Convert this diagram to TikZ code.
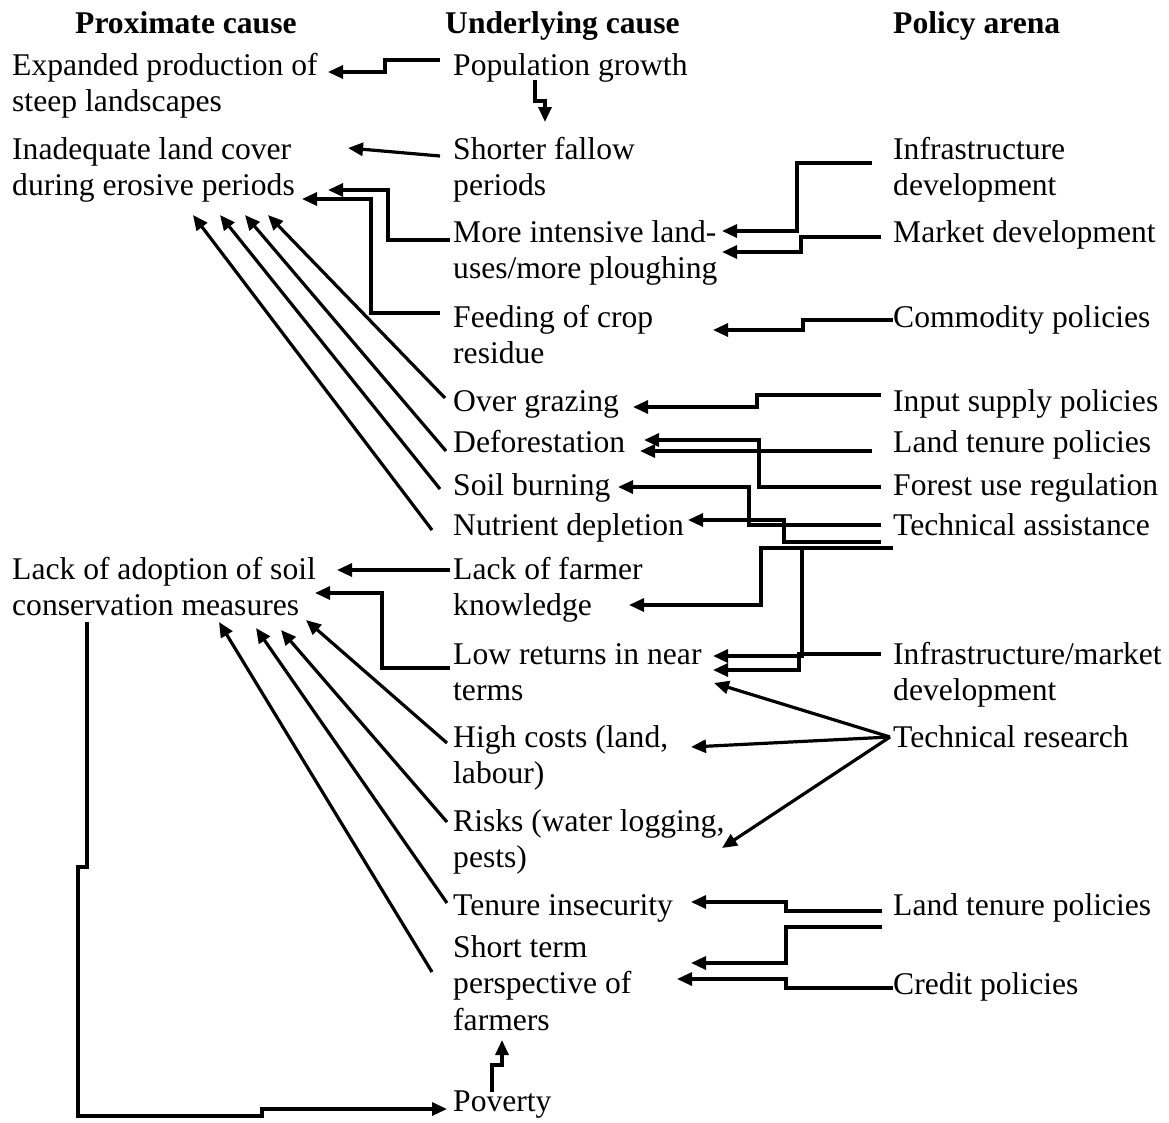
\documentclass[tikz,border=0pt]{standalone}
\usepackage{fontspec}
\setmainfont{Liberation Serif}
\usetikzlibrary{arrows.meta,calc}
\newcommand\twolines[2]{\vtop{\hbox{#1}\hbox{#2}}}
\newcommand\threelines[3]{\vtop{\hbox{#1}\hbox{#2}\hbox{#3}}}
\begin{document}
\begin{tikzpicture}[x=1pt,y=-1pt,
  lbl/.style={anchor=base west,inner sep=0pt,font=\fontsize{31.6pt}{36.5pt}\selectfont},
  hdr/.style={anchor=base west,inner sep=0pt,font=\fontsize{31.6pt}{36.5pt}\selectfont\bfseries},
  conn/.style={line width=3.2pt,-{Triangle[length=15pt,width=13pt]}}]
\useasboundingbox[fill=white] (0,0) rectangle (1169,1122);
% headers
\node[hdr] (hprox) at (75,33) {Proximate cause};
\node[hdr] (hund) at (445,33) {Underlying cause};
\node[hdr] (hpol) at (893,33) {Policy arena};
% proximate causes
\node[lbl] (exp) at (12,75) {\twolines{Expanded production of}{steep landscapes}};
\node[lbl] (inad) at (12,159) {\twolines{Inadequate land cover}{during erosive periods}};
\node[lbl] (lack) at (12,579) {\twolines{Lack of adoption of soil}{conservation measures}};
% underlying causes
\node[lbl] (pop) at (453,75) {Population growth};
\node[lbl] (short) at (453,159) {\twolines{Shorter fallow}{periods}};
\node[lbl] (more) at (453,242) {\twolines{More intensive land-}{uses/more ploughing}};
\node[lbl] (feed) at (453,327) {\twolines{Feeding of crop}{residue}};
\node[lbl] (over) at (453,411) {Over grazing};
\node[lbl] (defo) at (453,452) {Deforestation};
\node[lbl] (soil) at (453,495) {Soil burning};
\node[lbl] (nutr) at (453,535) {Nutrient depletion};
\node[lbl] (lfk) at (453,579) {\twolines{Lack of farmer}{knowledge}};
\node[lbl] (low) at (453,664) {\twolines{Low returns in near}{terms}};
\node[lbl] (high) at (453,747) {\twolines{High costs (land,}{labour)}};
\node[lbl] (risk) at (453,831) {\twolines{Risks (water logging,}{pests)}};
\node[lbl] (tenure) at (453,915) {Tenure insecurity};
\node[lbl] (sterm) at (453,957) {\threelines{Short term}{perspective of}{farmers}};
\node[lbl] (pov) at (453,1111) {Poverty};
% policy arena
\node[lbl] (infra) at (893,159) {\twolines{Infrastructure}{development}};
\node[lbl] (market) at (893,242) {Market development};
\node[lbl] (comm) at (893,327) {Commodity policies};
\node[lbl] (input) at (893,411) {Input supply policies};
\node[lbl] (ltpa) at (893,452) {Land tenure policies};
\node[lbl] (forest) at (893,495) {Forest use regulation};
\node[lbl] (tech) at (893,535) {Technical assistance};
\node[lbl] (infmk) at (893,664) {\twolines{Infrastructure/market}{development}};
\node[lbl] (techr) at (893,747) {Technical research};
\node[lbl] (ltpb) at (893,915) {Land tenure policies};
\node[lbl] (credit) at (893,994) {Credit policies};
% connectors
\draw[conn] ($(pop.base west)+(-13,-15)$) -- ++(-55,0) -- ++(0,12) -- ($(exp.base west)+(316,-3)$);
\draw[conn] ($(pop.base west)+(82,5)$) -- ++(0,21) -- ++(10,0) -- ($(short.base west)+(92,-37)$);
\draw[conn] ($(short.base west)+(-13,-3)$) -- ($(inad.base west)+(336,-11)$);
\draw[conn] ($(more.base west)+(-3,-2)$) -- ++(-62,0) -- ++(0,-50) -- ($(inad.base west)+(316,31)$);
\draw[conn] ($(feed.base west)+(-13,-14)$) -- ++(-69,0) -- ++(0,-114) -- ($(inad.base west)+(290,40)$);
\draw[conn] ($(over.base west)+(-8,-13)$) -- ($(inad.base west)+(256,56)$);
\draw[conn] ($(defo.base west)+(-7,-1)$) -- ($(inad.base west)+(233,56)$);
\draw[conn] ($(soil.base west)+(-13,-6)$) -- ($(inad.base west)+(208,56)$);
\draw[conn] ($(nutr.base west)+(-21,-5)$) -- ($(inad.base west)+(181,56)$);
\draw[conn] ($(infra.base west)+(-21,4)$) -- ++(-75,0) -- ++(0,68) -- ($(more.base west)+(269,-11)$);
\draw[conn] ($(market.base west)+(-12,-5)$) -- ++(-80,0) -- ++(0,15) -- ($(more.base west)+(269,10)$);
\draw[conn] ($(comm.base west)+(0,-7)$) -- ++(-90,0) -- ++(0,10) -- ($(feed.base west)+(260,3)$);
\draw[conn] ($(input.base west)+(-12,-16)$) -- ++(-124,0) -- ++(0,12) -- ($(over.base west)+(180,-4)$);
\draw[conn] ($(ltpa.base west)+(-21,-1)$) -- ($(defo.base west)+(187,-1)$);
\draw[conn] ($(forest.base west)+(-12,-8)$) -- ++(-122,0) -- ++(0,-47) -- ($(defo.base west)+(191,-12)$);
\draw[conn] ($(tech.base west)+(-12,-10)$) -- ++(-132,0) -- ++(0,-38) -- ($(soil.base west)+(165,-8)$);
\draw[conn] ($(tech.base west)+(-12,7)$) -- ++(-97,0) -- ++(0,-22) -- ($(nutr.base west)+(235,-15)$);
\draw[conn] ($(tech.base west)+(0,13)$) -- ++(-132,0) -- ++(0,57) -- ($(lfk.base west)+(176,26)$);
\draw[conn] ($(tech.base west)+(0,13)$) -- ++(-91,0) -- ++(0,108) -- ($(low.base west)+(260,-8)$);
\draw[conn] ($(infmk.base west)+(-12,-10)$) -- ++(-82,0) -- ++(0,16) -- ($(low.base west)+(260,6)$);
\draw[conn] ($(techr.base west)+(-3,-10)$) -- ($(low.base west)+(261,19)$);
\draw[conn] ($(techr.base west)+(-3,-10)$) -- ($(high.base west)+(238,0)$);
\draw[conn] ($(techr.base west)+(-3,-10)$) -- ($(risk.base west)+(269,17)$);
\draw[conn] ($(ltpb.base west)+(-11,-4)$) -- ++(-96,0) -- ++(0,-9) -- ($(tenure.base west)+(238,-13)$);
\draw[conn] ($(ltpb.base west)+(-11,12)$) -- ++(-96,0) -- ++(0,36) -- ($(sterm.base west)+(238,6)$);
\draw[conn] ($(credit.base west)+(0,-6)$) -- ++(-107,0) -- ++(0,-9) -- ($(sterm.base west)+(224,22)$);
\draw[conn] ($(lfk.base west)+(-3,-9)$) -- ($(lack.base west)+(325,-9)$);
\draw[conn] ($(low.base west)+(-3,4)$) -- ++(-68,0) -- ++(0,-75) -- ($(lack.base west)+(303,14)$);
\draw[conn] ($(high.base west)+(-6,-4)$) -- ($(lack.base west)+(294,41)$);
\draw[conn] ($(risk.base west)+(-6,-9)$) -- ($(lack.base west)+(269,51)$);
\draw[conn] ($(tenure.base west)+(-6,-12)$) -- ($(lack.base west)+(244,49)$);
\draw[conn] ($(sterm.base west)+(-21,15)$) -- ($(lack.base west)+(207,43)$);
\draw[conn] ($(lack.base west)+(75,43)$) -- ++(0,245) -- ++(-9,0) -- ++(0,249) -- ++(184,0) -- ++(0,-7) -- ($(pov.base west)+(-6,-2)$);
\draw[conn] ($(pov.base west)+(39,-19)$) -- ++(0,-27) -- ++(10,0) -- ($(sterm.base west)+(49,83)$);
\end{tikzpicture}
\end{document}
